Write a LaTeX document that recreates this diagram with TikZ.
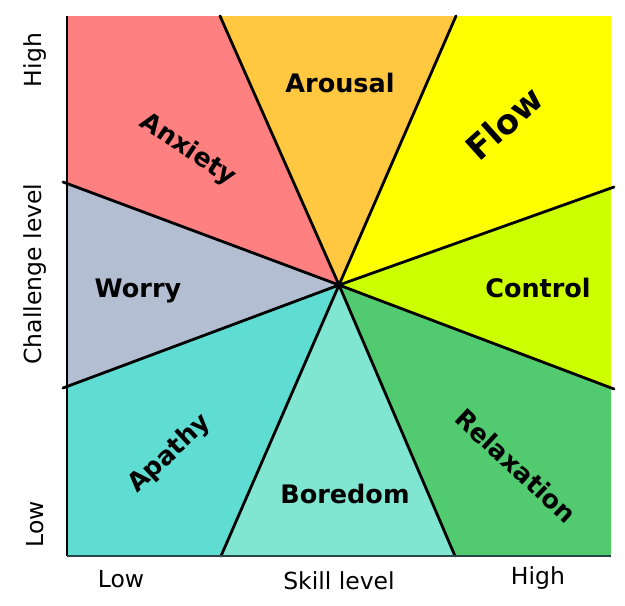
\documentclass[tikz,border=0pt]{standalone}
\usepackage{fontspec}
\setmainfont{DejaVu Sans}
\definecolor{cAnx}{RGB}{255,128,128}
\definecolor{cAro}{RGB}{255,200,64}
\definecolor{cFlow}{RGB}{255,255,0}
\definecolor{cCtl}{RGB}{204,255,0}
\definecolor{cRel}{RGB}{82,202,112}
\definecolor{cBor}{RGB}{128,230,210}
\definecolor{cApa}{RGB}{96,221,210}
\definecolor{cWor}{RGB}{180,190,210}
\definecolor{cAxis}{RGB}{40,70,70}
\tikzset{
  region/.style={font=\bfseries\fontsize{25.5}{30}\selectfont, inner sep=0pt},
  axlabel/.style={font=\fontsize{23.5}{28}\selectfont, inner sep=0pt},
  sep/.style={line width=2.8pt, black, line cap=round},
}
\begin{document}
\begin{tikzpicture}[x=1pt,y=-1pt]
\useasboundingbox (0,0) rectangle (625,606);
% key points
\coordinate (C) at (339,285);
\coordinate (TL) at (67,16);
\coordinate (TR) at (611,16);
\coordinate (BL) at (67,556);
\coordinate (BR) at (611,556);
\coordinate (L1) at (67,184);
\coordinate (L2) at (67,386);
\coordinate (T1) at (220,16);
\coordinate (T2) at (456,16);
\coordinate (R1) at (611,188);
\coordinate (R2) at (611,388);
\coordinate (B1) at (221,556);
\coordinate (B2) at (455,556);
% line ends slightly past the box
\coordinate (L1e) at (63,182);
\coordinate (L2e) at (63,388);
\coordinate (R1e) at (614,187);
\coordinate (R2e) at (614,389);
% regions
\fill[cAnx] (C) -- (L1) -- (TL) -- (T1) -- cycle;
\fill[cAro] (C) -- (T1) -- (T2) -- cycle;
\fill[cFlow] (C) -- (T2) -- (TR) -- (R1) -- cycle;
\fill[cCtl] (C) -- (R1) -- (R2) -- cycle;
\fill[cRel] (C) -- (R2) -- (BR) -- (B2) -- cycle;
\fill[cBor] (C) -- (B2) -- (B1) -- cycle;
\fill[cApa] (C) -- (B1) -- (BL) -- (L2) -- cycle;
\fill[cWor] (C) -- (L2) -- (L1) -- cycle;
% separators
\draw[sep] (C) -- (L1e);
\draw[sep] (C) -- (L2e);
\draw[sep] (C) -- (T1);
\draw[sep] (C) -- (T2);
\draw[sep] (C) -- (R1e);
\draw[sep] (C) -- (R2e);
\draw[sep] (C) -- (B1);
\draw[sep] (C) -- (B2);
% axes
\draw[line width=2.2pt, black] (TL) -- (BL);
\draw[line width=2.6pt, cAxis] (BL) -- (BR);
% region labels
\node[region] (aro) at (340,83) {Arousal};
\node[region, rotate=-34] (anx) at (188,150) {Anxiety};
\node[region, rotate=42, font=\bfseries\fontsize{34}{40}\selectfont] (flow) at (504,123) {Flow};
\node[region] (wor) at (138,291) {Worry};
\node[region] (ctl) at (538,288) {Control};
\node[region, rotate=43] (apa) at (170,454) {Apathy};
\node[region] (bor) at (345,494) {Boredom};
\node[region, rotate=-43] (rel) at (516,466) {Relaxation};
% axis labels
\node[axlabel, rotate=90] (yhigh) at (35,60) {High};
\node[axlabel, rotate=90] (ytitle) at (35,274) {Challenge level};
\node[axlabel, rotate=90] (ylow) at (35,524) {Low};
\node[axlabel] (xlow) at (121,579) {Low};
\node[axlabel] (xtitle) at (339,581) {Skill level};
\node[axlabel] (xhigh) at (538,578) {High};
\end{tikzpicture}
\end{document}
